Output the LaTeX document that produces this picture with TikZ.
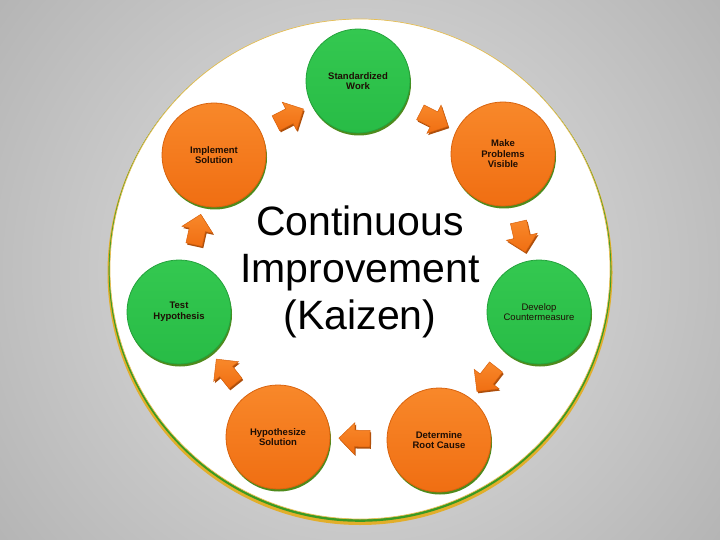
\documentclass[tikz,border=0pt]{standalone}
\usepackage{fontspec}
\setmainfont{Liberation Sans}
\usetikzlibrary{shapes.arrows,shadows,calc}
\definecolor{bgin}{HTML}{E4E4E4}
\definecolor{bgout}{HTML}{8E8E8E}
\definecolor{orgtop}{HTML}{F8882A}
\definecolor{orgbot}{HTML}{F06E12}
\definecolor{orgedge}{HTML}{D9630E}
\definecolor{grntop}{HTML}{34C850}
\definecolor{grnbot}{HTML}{28BC46}
\definecolor{grnedge}{HTML}{24A23C}
\definecolor{shadegrn}{HTML}{4E8A1C}
\definecolor{rimyel}{HTML}{E2AE2A}
\definecolor{rimgrn}{HTML}{3A9A22}
\definecolor{txtdark}{HTML}{1E0E04}
\tikzset{
  stepcirc/.style={circle, minimum size=104pt, inner sep=0pt, align=center,
    font=\fontsize{9.5}{10.6}\selectfont\bfseries, text=txtdark,
    drop shadow={shadow xshift=1pt, shadow yshift=-2.5pt, fill=shadegrn, opacity=1}},
  orangec/.style={stepcirc, top color=orgtop, bottom color=orgbot, draw=orgedge, line width=0.8pt},
  greenc/.style={stepcirc, top color=grntop, bottom color=grnbot, draw=grnedge, line width=0.8pt},
  blockarr/.style={single arrow, allow upside down, sloped, minimum height=31pt, minimum width=31pt,
    inner xsep=0pt, inner ysep=8pt, single arrow head extend=7.5pt,
    top color=orgtop, bottom color=orgbot, draw=orgedge, line width=0.5pt,
    drop shadow={shadow xshift=1.2pt, shadow yshift=-1.8pt, fill=orgedge!80!black, opacity=1}},
}
\begin{document}
\begin{tikzpicture}[x=1pt,y=-1pt]
\useasboundingbox (0,0) rectangle (720,540);
\begin{scope}
\clip (0,0) rectangle (720,540);
\shade[inner color=bgin, outer color=bgout] (360,270) circle (820);
\end{scope}
% big circle with rim
\fill[rimyel] (360,272.5) circle (252.5);
\fill[rimgrn] (360,270.5) circle (251.3);
\fill[white, draw=rimyel!80!white, line width=0.7pt] (360,269) circle (250);
% title
\node[font=\fontsize{41}{47}\selectfont, align=center, text=black] (title) at (360,272)
  {Continuous\\Improvement\\(Kaizen)};
% step circles
\node[greenc] (std) at (358,81) {\raisebox{-4pt}{\shortstack{Standardized\\Work}}};
\node[orangec] (make) at (503,154) {Make\\Problems\\Visible};
\node[greenc, font=\fontsize{9.5}{10.6}\selectfont] (dev) at (539,312) {Develop\\Countermeasure};
\node[orangec] (det) at (439,440) {Determine\\Root Cause};
\node[orangec] (hyp) at (278,437) {Hypothesize\\Solution};
\node[greenc] (test) at (179,312) {Test\\Hypothesis};
\node[orangec] (impl) at (214,155) {Implement\\Solution};
% block arrows
\path (impl) -- node[blockarr] (a1) {} (std);
\path (std) -- node[blockarr] (a2) {} (make);
\path (make) -- node[blockarr] (a3) {} (dev);
\path (dev) -- node[blockarr] (a4) {} (det);
\path (det) -- node[blockarr] (a5) {} (hyp);
\path (hyp) -- node[blockarr] (a6) {} (test);
\path (test) -- node[blockarr] (a7) {} (impl);
\end{tikzpicture}
\end{document}
